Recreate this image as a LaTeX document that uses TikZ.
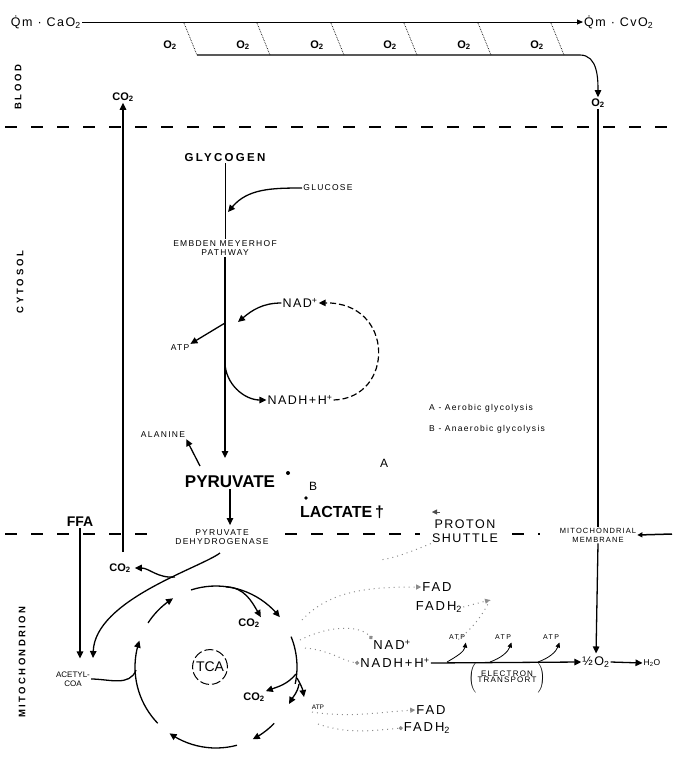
\documentclass[tikz,border=0pt]{standalone}
\usepackage{fontspec}
\setmainfont{Liberation Sans}
\usetikzlibrary{arrows.meta,calc}
\begin{document}
\begin{tikzpicture}[x=1pt,y=-1pt,
  lbl/.style={inner sep=1pt, font=\fontsize{11}{12}\selectfont\bfseries},
  big/.style={inner sep=1pt, font=\fontsize{17}{18}\selectfont\bfseries},
  sml/.style={inner sep=1pt, align=center, font=\fontsize{8.5}{9.5}\selectfont\addfontfeatures{LetterSpace=15}},
  med/.style={inner sep=1pt, align=center, font=\fontsize{12.5}{14}\selectfont\addfontfeatures{LetterSpace=12}},
  side/.style={rotate=90, inner sep=0pt, font=\fontsize{9.5}{10}\selectfont\bfseries\addfontfeatures{LetterSpace=30}},
  ar/.style={-{Triangle[length=7pt,width=6.5pt]}, line width=1.3pt},
  sar/.style={-{Triangle[length=5pt,width=4.5pt]}, line width=0.8pt},
  thinl/.style={line width=0.9pt},
  dline/.style={line width=1.5pt, dash pattern=on 12pt off 14pt},
  faint/.style={black!45, line width=1pt, dash pattern=on 1pt off 4pt},
]
\useasboundingbox (0,0) rectangle (678,782);

% ---------------- blood ----------------
\node[med, anchor=east] (qa) at (82,22) {Q̇m · CaO\textsubscript{2}};
\node[med, anchor=west] (qv) at (583,22) {Q̇m · CvO\textsubscript{2}};
\draw[thinl, -{Triangle[length=6pt,width=5pt]}] (qa.east) -- (qv.west);
\foreach \i/\xx in {1/170,2/243,3/317,4/390,5/464,6/537} {
  \node[lbl] (ox\i) at (\xx,45) {O\textsubscript{2}};
  \draw[line width=0.7pt, densely dotted] (\xx+14,23) -- (\xx+27,55);
}
\node[lbl] (o2r) at (598,103) {O\textsubscript{2}};
\coordinate (lo1) at (197,55);
\coordinate (lo2) at (580,55);
\draw[line width=1.1pt, -{Triangle[length=7pt,width=6.5pt]}] (lo1) -- (lo2) to[out=0,in=90] (o2r.north);
\node[side] (blood) at (18,87) {BLOOD};
\node[lbl] (co2top) at (123,97) {CO\textsubscript{2}};

\draw[dline] (5,127) -- (675,127);

% ---------------- cytosol ----------------
\node[side] (cyto) at (20,282) {CYTOSOL};
\node[inner sep=1pt, font=\fontsize{11.5}{12}\selectfont\bfseries\addfontfeatures{LetterSpace=20}] (gly) at (225,158) {GLYCOGEN};
\node[sml] (glu) at (328,188) {GLUCOSE};
\node[sml] (emp) at (225,248) {EMBDEN MEYERHOF\\PATHWAY};
\draw[thinl] (gly.south) -- (emp.north);
\coordinate (gin) at (228,212);
\draw[ar] (glu.west) to[out=180,in=50] (gin);
\coordinate (pyin) at (225,458);
\draw[ar] (emp.south) -- (pyin);

\node[med] (nad1) at (300,303) {NAD\textsuperscript{+}};
\node[med] (nadh1) at (300,400) {NADH+H\textsuperscript{+}};
\node[sml] (atp1) at (180,348) {ATP};
\coordinate (gl1) at (225,323);
\coordinate (gl2) at (225,362);
\coordinate (nadtip) at (238,322);
\draw[ar] (nad1.west) to[out=180,in=40] (nadtip);
\draw[ar] (gl1) -- (atp1.north east);
\draw[ar] (gl2) to[out=-90,in=180] (nadh1.west);
\draw[line width=1.2pt, dash pattern=on 6pt off 3pt, -{Triangle[length=7pt,width=6.5pt]}]
   (nadh1.east) .. controls (395,398) and (395,302) .. (nad1.east);

\node[sml] (ala) at (163,435) {ALANINE};
\coordinate (alafrom) at (200,466);
\draw[ar] (alafrom) -- (ala.south east);

\node[big] (pyr) at (230,482) {PYRUVATE};
\fill (288,473) circle (2pt);
\node[med, font=\fontsize{12}{13}\selectfont] (lb) at (313,486) {B};
\node[med, font=\fontsize{12}{13}\selectfont] (la) at (384,463) {A};
\node[big, font=\fontsize{16}{17}\selectfont\bfseries] (lac) at (342,512) {LACTATE\,†};
\fill (306,498) circle (1.8pt);

\node[sml, anchor=west, align=left] (lega) at (428,408) {A - Aerobic glycolysis};
\node[sml, anchor=west, align=left] (legb) at (428,429) {B - Anaerobic glycolysis};

% membrane
\node[sml] (pdh) at (222,537) {PYRUVATE\\DEHYDROGENASE};
\draw[ar, shorten >=3pt] (pyr.south) -- (pyr.south |- pdh.north);
\node[lbl] (ffa) at (80,522) {\fontsize{14}{15}\selectfont FFA};
\node[med] (shut) at (465,531) {PROTON\\SHUTTLE};
\node[sml, font=\fontsize{7.5}{9}\selectfont\addfontfeatures{LetterSpace=15}] (mm) at (598,535) {MITOCHONDRIAL\\MEMBRANE};
\draw[dline] (5,534) -- (155,534);
\draw[dline] (285,534) -- (420,534);
\draw[dline] (512,534) -- (540,534);
\coordinate (mmr) at (672,534);
\draw[line width=1.5pt, -{Triangle[length=5pt,width=5pt]}] (mmr) -- (mm.east);
\coordinate (shtip) at (432,512);
\coordinate (shfrom) at (440,512);
\draw[black!70, -{Triangle[length=5pt,width=5pt]}] (shfrom) -- (shtip);

% right vertical O2 line
\draw[line width=1.1pt] (o2r.south) -- (mm.north);
\node[med] (half) at (596,662) {½O\textsubscript{2}};
\draw[ar, shorten >=2pt] (mm.south) -- (half.north);
\node[sml, font=\fontsize{8.5}{9}\selectfont] (h2o) at (652,663) {H\textsubscript{2}O};
\draw[ar] (half.east) -- (h2o.west);

% ---------------- mitochondrion ----------------
\node[side, font=\fontsize{9.5}{10}\selectfont\bfseries\addfontfeatures{LetterSpace=25}] (mito) at (22,662) {MITOCHONDRION};
\coordinate (co2bot) at (123,552);
\draw[ar] (co2bot) -- (co2top.south);
\node[sml, font=\fontsize{8}{9}\selectfont] (acoa) at (73,679) {ACETYL-\\COA};
\draw[ar, shorten >=12pt] (ffa.south) -- (ffa.south |- acoa.north);
\coordinate (pdhout) at (220,553);
\coordinate (acin) at (93,658);
\draw[ar] (pdhout) .. controls (200,568) and (95,600) .. (acin);
\node[lbl] (co2m) at (120,568) {CO\textsubscript{2}};
\coordinate (co2br) at (175,577);
\draw[ar, shorten >=3pt] (co2br) to[out=185,in=0] (co2m.east);
\coordinate (accirc) at (136,670);
\draw[line width=1.3pt] (acoa.east) to[out=0,in=250] (accirc);

% TCA cycle
\def\cx{216}\def\cy{667}\def\R{81}
\draw[ar] plot[domain=136:199, samples=20] ({\cx+\R*cos(\x)},{\cy+\R*sin(\x)});
\draw[ar] plot[domain=213:238, samples=10] ({\cx+\R*cos(\x)},{\cy+\R*sin(\x)});
\draw[ar] plot[domain=252:322, samples=20] ({\cx+\R*cos(\x)},{\cy+\R*sin(\x)});
\draw[line width=1.3pt] plot[domain=338:372, samples=15] ({\cx+\R*cos(\x)},{\cy+\R*sin(\x)});
\draw[ar] plot[domain=44:63, samples=10] ({\cx+\R*cos(\x)},{\cy+\R*sin(\x)});
\draw[ar] plot[domain=75:125, samples=15] ({\cx+\R*cos(\x)},{\cy+\R*sin(\x)});
\node[lbl] (co2a) at (249,623) {CO\textsubscript{2}};
\node[lbl] (co2b) at (254,697) {CO\textsubscript{2}};
\node[sml, font=\fontsize{6.5}{7}\selectfont] (atpt) at (318,707) {ATP};
\coordinate (brA) at (226,587);
\draw[ar] (brA) to[out=0,in=120] (co2a.north east);
\coordinate (brB) at (296,674);
\draw[ar] (brB) to[out=230,in=20] (co2b.north east);
\coordinate (brC) at (297,678);
\coordinate (brCt) at (304,697);
\draw[ar] (brC) to[out=-60,in=100] (brCt);
\coordinate (brD) at (299,684);
\coordinate (brDt) at (289,704);
\draw[ar] (brD) to[out=-100,in=60] (brDt);
\node[circle, draw, line width=1pt, dash pattern=on 9pt off 3pt, inner sep=2pt, font=\fontsize{14}{15}\selectfont] (tca) at (210,667) {TCA};

% NAD / FAD and electron transport
\node[med, font=\fontsize{13}{14}\selectfont\addfontfeatures{LetterSpace=15}] (fad1) at (437,587) {FAD};
\node[med, font=\fontsize{13}{14}\selectfont\addfontfeatures{LetterSpace=15}] (fadh1) at (439,607) {FADH\textsubscript{2}};
\node[med, font=\fontsize{13}{14}\selectfont\addfontfeatures{LetterSpace=15}] (nad2) at (392,645) {NAD\textsuperscript{+}};
\node[med, font=\fontsize{13}{14}\selectfont\addfontfeatures{LetterSpace=15}] (nadh2) at (395,663) {NADH+H\textsuperscript{+}};
\node[med, font=\fontsize{13}{14}\selectfont\addfontfeatures{LetterSpace=15}] (fad2) at (431,710) {FAD};
\node[med, font=\fontsize{13}{14}\selectfont\addfontfeatures{LetterSpace=15}] (fadh2) at (427,728) {FADH\textsubscript{2}};
\draw[ar] (nadh2.east) -- (half.west);
\node[sml, font=\fontsize{7}{8}\selectfont\addfontfeatures{LetterSpace=20}] (atpa) at (457,637) {ATP};
\node[sml, font=\fontsize{7}{8}\selectfont\addfontfeatures{LetterSpace=20}] (atpb) at (503,637) {ATP};
\node[sml, font=\fontsize{7}{8}\selectfont\addfontfeatures{LetterSpace=20}] (atpc) at (551,637) {ATP};
\coordinate (ea) at (447,662);
\coordinate (eb) at (490,662);
\coordinate (ec) at (538,662);
\draw[sar, shorten >=2pt] (ea) to[out=30,in=-100] (atpa.south east);
\draw[sar, shorten >=2pt] (eb) to[out=20,in=-110] (atpb.south east);
\draw[sar, shorten >=2pt] (ec) to[out=20,in=-110] (atpc.south east);
\node[sml, font=\fontsize{8}{8.5}\selectfont\addfontfeatures{LetterSpace=15}] (et) at (507,678) {$\left(\vphantom{\rule{1pt}{16pt}}\right.$\begin{tabular}{@{}c@{}}ELECTRON\\[-2pt]TRANSPORT\end{tabular}$\left.\vphantom{\rule{1pt}{16pt}}\right)$};

% faint dotted traces
\coordinate (tr1) at (300,640);
\draw[faint, -{Circle[length=4pt]}] (tr1) .. controls (330,625) and (360,625) .. (nad2.north west);
\coordinate (tr2) at (305,648);
\draw[faint, -{Circle[length=4pt]}] (tr2) .. controls (330,650) and (345,662) .. (nadh2.west);
\coordinate (tr3) at (302,620);
\draw[faint, -{Triangle[length=5pt,width=5pt]}] (tr3) .. controls (330,590) and (370,587) .. (fad1.west);
\coordinate (tr4) at (490,600);
\draw[faint, -{Triangle[length=5pt,width=5pt]}] (fadh1.east) -- (tr4);
\draw[faint] (tr4) .. controls (480,620) and (470,630) .. (atpa.south);
\coordinate (tr5) at (312,712);
\draw[faint, -{Triangle[length=5pt,width=5pt]}] (tr5) .. controls (350,718) and (380,712) .. (fad2.west);
\coordinate (tr6) at (318,724);
\draw[faint, -{Circle[length=4pt]}] (tr6) .. controls (350,735) and (375,730) .. (fadh2.west);
\coordinate (tr7) at (380,560);
\draw[faint] (shut.south west) .. controls (410,552) and (395,558) .. (tr7);
\end{tikzpicture}
\end{document}
